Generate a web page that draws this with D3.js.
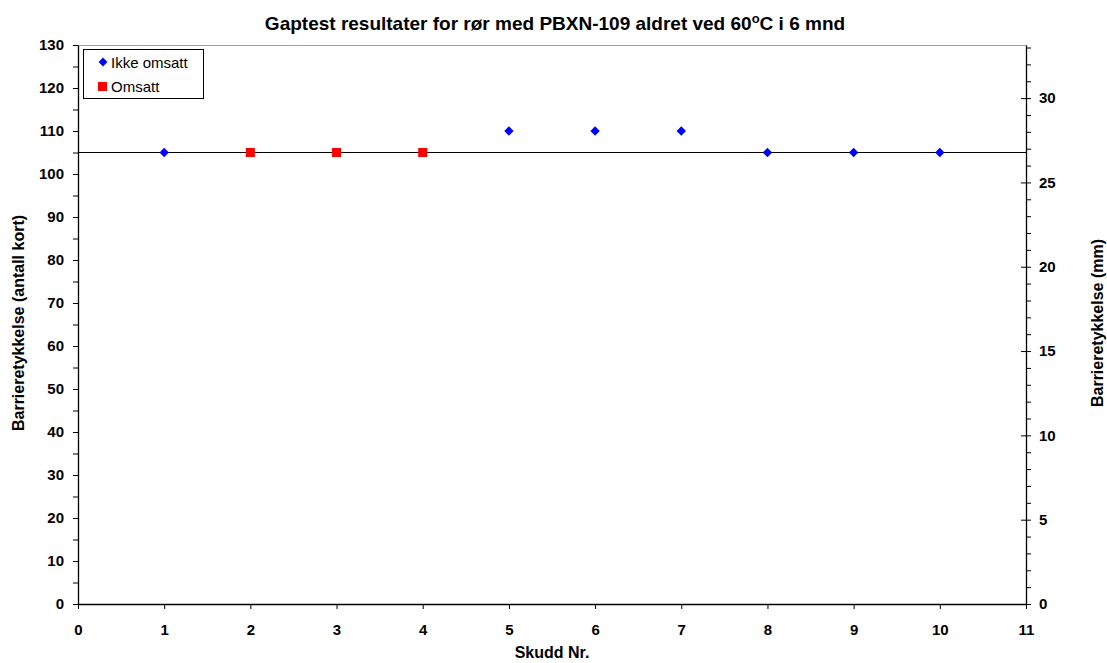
<!DOCTYPE html>
<html>
<head>
<meta charset="utf-8">
<script src="https://cdn.jsdelivr.net/npm/d3@7"></script>
<style>
  body { margin: 0; background: #fff; }
  svg text { font-family: Arial, "Liberation Sans", sans-serif; }
</style>
</head>
<body>
<script>
// DATA
const ikkeX = [1, 5, 6, 7, 8, 9, 10];
const ikkeY = [105, 110, 110, 110, 105, 105, 105];
const omsattX = [2, 3, 4];
const omsattY = [105, 105, 105];
const refLevel = 105;
const mmPerCard = 0.255;
const xTicks = d3.range(0, 12);
const yTicks = d3.range(0, 131, 10);
const y2Ticks = d3.range(0, 31, 5);

const W = 1107, H = 663;
const padL = 78, padR = 1026, padT = 45, padB = 604;

const svg = d3.select("body").append("svg")
  .attr("width", W).attr("height", H);

const x = d3.scaleLinear().domain([0, 11]).range([padL, padR]);
const y = d3.scaleLinear().domain([0, 130]).range([padB, padT]);
const y2 = d3.scaleLinear().domain([0, 130 * mmPerCard]).range([padB, padT]);

// plot border (top line grey)
svg.append("line")
  .attr("x1", padL).attr("x2", padR).attr("y1", padT + 0.5).attr("y2", padT + 0.5)
  .attr("stroke", "#a0a0a0");

// left axis
svg.append("g")
  .attr("transform", `translate(${padL},0)`)
  .call(d3.axisLeft(y).tickValues(yTicks).tickSize(5).tickPadding(9).tickSizeOuter(0));
svg.append("g")
  .attr("transform", `translate(${padL},0)`)
  .call(d3.axisLeft(y).tickValues(d3.range(5, 130, 10)).tickSize(5).tickFormat("").tickSizeOuter(0))
  .select(".domain").remove();

// right axis
svg.append("g")
  .attr("transform", `translate(${padR},0)`)
  .call(d3.axisRight(y2).tickValues(y2Ticks).tickSize(5).tickPadding(8).tickSizeOuter(0))
  .call(g => g.selectAll(".tick line").attr("x1", -5));
svg.append("g")
  .attr("transform", `translate(${padR},0)`)
  .call(d3.axisRight(y2).tickValues(d3.range(1, 34).filter(v => v % 5 !== 0)).tickSize(5).tickFormat("").tickSizeOuter(0))
  .select(".domain").remove();

// bottom axis
svg.append("g")
  .attr("transform", `translate(0,${padB})`)
  .call(d3.axisBottom(x).tickValues(xTicks).tickSize(5).tickPadding(15).tickSizeOuter(0));

svg.selectAll(".domain").attr("stroke", "#000").attr("stroke-width", 1.3);
svg.selectAll(".tick line").attr("stroke", "#000");
svg.selectAll(".tick text")
  .attr("font-family", "Arial, 'Liberation Sans', sans-serif")
  .attr("font-size", 15).attr("font-weight", "bold").attr("fill", "#000");

// reference line
svg.append("line")
  .attr("x1", padL).attr("x2", padR)
  .attr("y1", y(refLevel)).attr("y2", y(refLevel))
  .attr("stroke", "#000").attr("stroke-width", 1);

// markers
const ikke = ikkeX.map((v, i) => ({ x: v, y: ikkeY[i] }));
const omsatt = omsattX.map((v, i) => ({ x: v, y: omsattY[i] }));

svg.selectAll("path.ikke").data(ikke).enter().append("path")
  .attr("class", "ikke")
  .attr("d", d3.symbol(d3.symbolDiamond2, 56))
  .attr("transform", d => `translate(${x(d.x)},${y(d.y)})`)
  .attr("fill", "#0000ff");

svg.selectAll("rect.omsatt").data(omsatt).enter().append("rect")
  .attr("class", "omsatt")
  .attr("x", d => x(d.x) - 4.5).attr("y", d => y(d.y) - 4.5)
  .attr("width", 9).attr("height", 9)
  .attr("fill", "#ff0000");

// legend
const lg = svg.append("g");
lg.append("rect").attr("x", 83.5).attr("y", 49.5).attr("width", 120).attr("height", 49)
  .attr("fill", "#fff").attr("stroke", "#000");
lg.append("path").attr("d", d3.symbol(d3.symbolDiamond2, 50))
  .attr("transform", "translate(103,62)").attr("fill", "#0000ff");
lg.append("text").attr("x", 111).attr("y", 67.5).text("Ikke omsatt")
  .attr("font-size", 15);
lg.append("rect").attr("x", 98).attr("y", 82).attr("width", 9).attr("height", 9)
  .attr("fill", "#ff0000");
lg.append("text").attr("x", 111).attr("y", 92).text("Omsatt")
  .attr("font-size", 15);

// title
const title = svg.append("text").attr("x", 555).attr("y", 30)
  .attr("text-anchor", "middle").attr("font-size", 19).attr("font-weight", "bold");
title.append("tspan").text("Gaptest resultater for rør med PBXN-109 aldret ved 60");
title.append("tspan").text("o").attr("font-size", 13).attr("dy", -7);
title.append("tspan").text("C i 6 mnd").attr("dy", 7);

// axis titles
svg.append("text").attr("x", (padL + padR) / 2).attr("y", 658)
  .attr("text-anchor", "middle").attr("font-size", 16).attr("font-weight", "bold")
  .text("Skudd Nr.");
svg.append("text")
  .attr("transform", `translate(24,323) rotate(-90)`)
  .attr("text-anchor", "middle").attr("font-size", 16).attr("font-weight", "bold")
  .text("Barrieretykkelse (antall kort)");
svg.append("text")
  .attr("transform", `translate(1103,323) rotate(-90)`)
  .attr("text-anchor", "middle").attr("font-size", 16).attr("font-weight", "bold")
  .text("Barrieretykkelse (mm)");
</script>
</body>
</html>
